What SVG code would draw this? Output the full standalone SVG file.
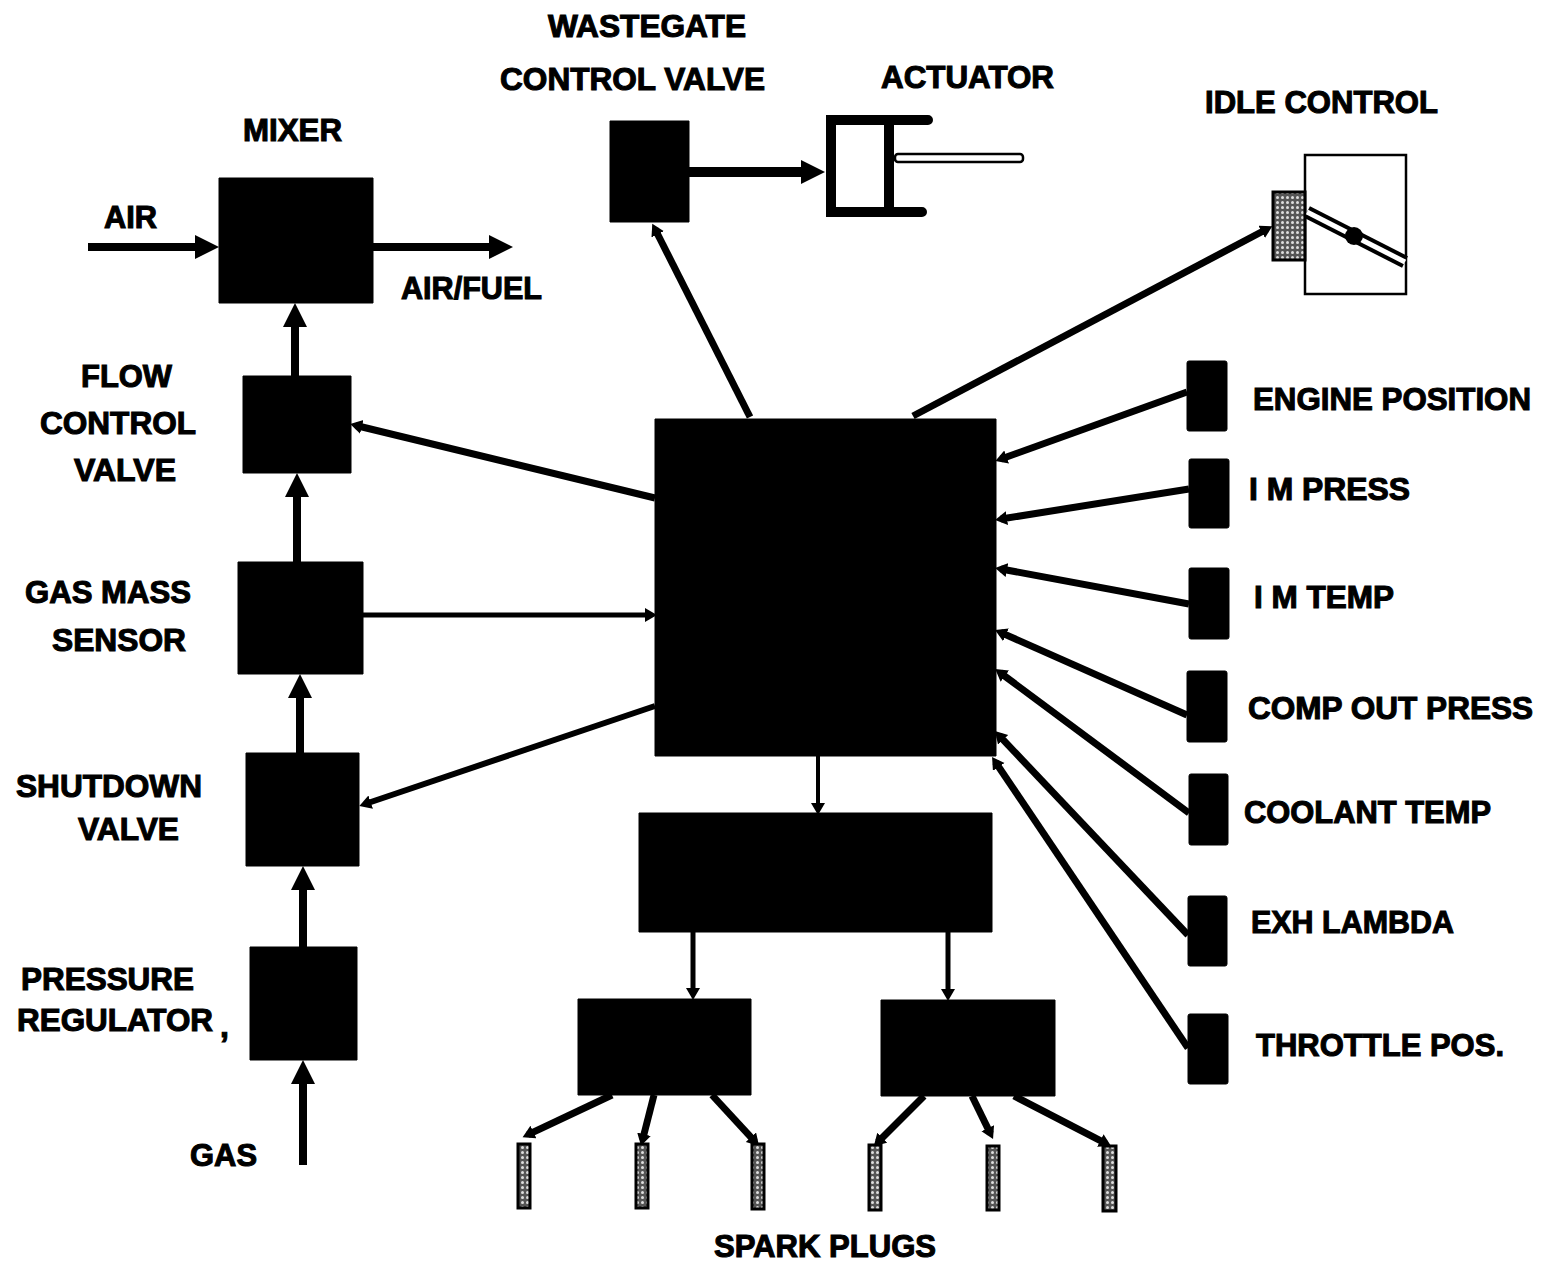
<svg xmlns="http://www.w3.org/2000/svg" width="1541" height="1264" viewBox="0 0 1541 1264">
<style>
text{font-family:"Liberation Sans",Arial,sans-serif;font-weight:700;font-size:32px;fill:#000;stroke:#000;stroke-width:1.1px;transform:translateY(-2px)}
.b{fill:#000;stroke:#000;stroke-width:1;stroke-linejoin:round}
.c{fill:none;stroke:#000;stroke-width:8}
.t{fill:none;stroke:#000;stroke-width:7}
.big{marker-end:url(#big)}
.sm{marker-end:url(#sm)}
.plug{fill:url(#spk);stroke:#000;stroke-width:3}
</style>
<defs>
<marker id="big" markerUnits="userSpaceOnUse" markerWidth="30" markerHeight="30" refX="12" refY="12" orient="auto"><path d="M0 0L24 12L0 24Z"/></marker>
<marker id="sm" markerUnits="userSpaceOnUse" markerWidth="16" markerHeight="16" refX="6" refY="7" orient="auto"><path d="M0 0L12 7L0 14Z"/></marker>
<pattern id="spk" width="5" height="5" patternUnits="userSpaceOnUse"><rect width="5" height="5" fill="#555"/><circle cx="2.5" cy="2.5" r="1.5" fill="#ddd"/></pattern>
</defs>
<g id="connectors">
<path class="c big" d="M88 247H207"/>
<path class="c big" d="M373 247H501"/>
<path class="c big" d="M303 1165V1072"/>
<path class="c big" d="M303 947V878"/>
<path class="c big" d="M300 753V686"/>
<path class="c big" d="M297 562V485"/>
<path class="c big" d="M295 376V315"/>
<path class="c big" style="stroke-width:10" d="M689 172H813"/>
<path class="t sm" d="M750 417L655 229"/>
<path class="t sm" d="M913 416L1267 229"/>
<path class="t sm" d="M655 498L356 425.500"/>
<path class="t sm" style="stroke-width:5" d="M363 615H651"/>
<path class="t sm" style="stroke-width:6" d="M655 706L365 804"/>
<path class="t sm" style="stroke-width:4" d="M818 756V809"/>
<path class="t sm" style="stroke-width:5" d="M693 932V994"/>
<path class="t sm" style="stroke-width:5" d="M948 932V995"/>
<path class="t sm" d="M612 1095L528 1134.600"/>
<path class="t sm" d="M654 1095L642.500 1140"/>
<path class="t sm" d="M712 1095L755 1141.600"/>
<path class="t sm" d="M924 1096L878 1142"/>
<path class="t sm" d="M972 1096L990.400 1133.600"/>
<path class="t sm" d="M1014 1096L1105.700 1143.300"/>
<path class="t sm" d="M1187 392L1001 459"/>
<path class="t sm" d="M1189 489L1001 519"/>
<path class="t sm" d="M1189 604L1001 569"/>
<path class="t sm" d="M1187 715L1000.500 632.400"/>
<path class="t sm" d="M1189 813L1000 672.600"/>
<path class="t sm" d="M1188 935L999 735.400"/>
<path class="t sm" d="M1188 1048L995.400 762"/>
</g>
<g id="mixer"><rect class="b" x="219" y="178" width="154" height="125"/><text x="243" y="143" textLength="99" lengthAdjust="spacingAndGlyphs">MIXER</text></g>
<g id="air"><text x="104" y="230" textLength="53" lengthAdjust="spacingAndGlyphs">AIR</text></g>
<g id="airfuel"><text x="401" y="301" textLength="141" lengthAdjust="spacingAndGlyphs">AIR/FUEL</text></g>
<g id="flow-control-valve"><rect class="b" x="243" y="376" width="108" height="97"/><text x="81" y="389" textLength="91" lengthAdjust="spacingAndGlyphs">FLOW</text><text x="40" y="436" textLength="156" lengthAdjust="spacingAndGlyphs">CONTROL</text><text x="74" y="483" textLength="102" lengthAdjust="spacingAndGlyphs">VALVE</text></g>
<g id="gas-mass-sensor"><rect class="b" x="238" y="562" width="125" height="112"/><text x="25" y="605" textLength="166" lengthAdjust="spacingAndGlyphs">GAS MASS</text><text x="52" y="653" textLength="134" lengthAdjust="spacingAndGlyphs">SENSOR</text></g>
<g id="shutdown-valve"><rect class="b" x="246" y="753" width="113" height="113"/><text x="16" y="799" textLength="186" lengthAdjust="spacingAndGlyphs">SHUTDOWN</text><text x="78" y="842" textLength="101" lengthAdjust="spacingAndGlyphs">VALVE</text></g>
<g id="pressure-regulator"><rect class="b" x="250" y="947" width="107" height="113"/><text x="21" y="992" textLength="173" lengthAdjust="spacingAndGlyphs">PRESSURE</text><text x="17" y="1033" textLength="196" lengthAdjust="spacingAndGlyphs">REGULATOR</text><text x="220" y="1039">,</text></g>
<g id="gas"><text x="190" y="1168" textLength="67" lengthAdjust="spacingAndGlyphs">GAS</text></g>
<g id="wastegate"><rect class="b" x="610" y="121" width="79" height="101"/><text x="548" y="39" textLength="198" lengthAdjust="spacingAndGlyphs">WASTEGATE</text><text x="500" y="92" textLength="265" lengthAdjust="spacingAndGlyphs">CONTROL VALVE</text></g>
<g id="actuator"><path d="M928 120H831V212H922M889 120V212" fill="none" stroke="#000" stroke-width="10" stroke-linecap="round"/><rect x="895" y="154" width="128" height="8" rx="3" fill="#fff" stroke="#000" stroke-width="2.500"/><text x="881" y="90" textLength="173" lengthAdjust="spacingAndGlyphs">ACTUATOR</text></g>
<g id="idle-control"><rect x="1305" y="155" width="101" height="139" fill="#fff" stroke="#000" stroke-width="2.500"/><rect x="1273" y="192" width="32" height="68" fill="url(#spk)" stroke="#000" stroke-width="3"/><path d="M1307 212L1405 262" stroke="#000" stroke-width="13" fill="none"/><path d="M1307 212L1405 262" stroke="#fff" stroke-width="5" fill="none"/><circle cx="1354" cy="236" r="9"/><text x="1205" y="115" textLength="233" lengthAdjust="spacingAndGlyphs">IDLE CONTROL</text></g>
<g id="ecu"><rect class="b" x="655" y="419" width="341" height="337"/></g>
<g id="ignition-module"><rect class="b" x="639" y="813" width="353" height="119"/></g>
<g id="coil-1"><rect class="b" x="578" y="999" width="173" height="96"/></g>
<g id="coil-2"><rect class="b" x="881" y="1000" width="174" height="96"/></g>
<g id="engine-position"><rect class="b" x="1187" y="361" width="40" height="70" rx="2"/><text x="1253" y="412" textLength="278" lengthAdjust="spacingAndGlyphs">ENGINE POSITION</text></g>
<g id="im-press"><rect class="b" x="1189" y="459" width="40" height="69" rx="2"/><text x="1249" y="502" textLength="161" lengthAdjust="spacingAndGlyphs">I M PRESS</text></g>
<g id="im-temp"><rect class="b" x="1189" y="568" width="40" height="71" rx="2"/><text x="1254" y="610" textLength="140" lengthAdjust="spacingAndGlyphs">I M TEMP</text></g>
<g id="comp-out-press"><rect class="b" x="1187" y="671" width="40" height="71" rx="2"/><text x="1248" y="721" textLength="285" lengthAdjust="spacingAndGlyphs">COMP OUT PRESS</text></g>
<g id="coolant-temp"><rect class="b" x="1189" y="774" width="39" height="71" rx="2"/><text x="1244" y="825" textLength="247" lengthAdjust="spacingAndGlyphs">COOLANT TEMP</text></g>
<g id="exh-lambda"><rect class="b" x="1188" y="896" width="39" height="70" rx="2"/><text x="1251" y="935" textLength="203" lengthAdjust="spacingAndGlyphs">EXH LAMBDA</text></g>
<g id="throttle-pos"><rect class="b" x="1188" y="1014" width="40" height="70" rx="2"/><text x="1256" y="1058" textLength="248" lengthAdjust="spacingAndGlyphs">THROTTLE POS.</text></g>
<g id="spark-plugs">
<rect class="plug" x="518" y="1144" width="12" height="64"/>
<rect class="plug" x="636" y="1144" width="12" height="64"/>
<rect class="plug" x="752" y="1144" width="12" height="65"/>
<rect class="plug" x="869" y="1145" width="12" height="65"/>
<rect class="plug" x="987" y="1146" width="12" height="64"/>
<rect class="plug" x="1103" y="1146" width="13" height="65"/>
<text x="714" y="1259" textLength="222" lengthAdjust="spacingAndGlyphs">SPARK PLUGS</text>
</g>
</svg>
